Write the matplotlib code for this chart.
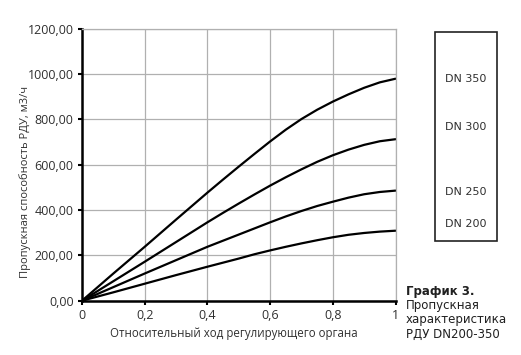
import matplotlib
matplotlib.use("Agg")
import matplotlib.pyplot as plt
from matplotlib.patches import Rectangle

# relative stroke of the control element
stroke = [0, 0.1, 0.2, 0.3, 0.4, 0.45, 0.5, 0.55, 0.6, 0.65, 0.7,
          0.75, 0.8, 0.85, 0.9, 0.95, 1.0]

# flow capacity, m3/h
dn350 = [0, 120, 238, 358, 477, 535, 592, 648, 703, 755, 802,
         843, 879, 911, 940, 964, 980]
dn300 = [0, 86, 172, 259, 346, 388, 429, 469, 508, 545, 580,
         613, 642, 667, 688, 704, 713]
dn250 = [0, 60, 120, 179, 238, 265, 292, 319, 346, 372, 396,
         418, 437, 455, 470, 480, 486]
dn200 = [0, 37, 75, 113, 150, 168, 186, 205, 222, 238, 253,
         267, 280, 291, 299, 305, 309]

series_names = ["DN 350", "DN 300", "DN 250", "DN 200"]
x_ticks = [0, 0.2, 0.4, 0.6, 0.8, 1.0]
x_tick_labels = ["0", "0,2", "0,4", "0,6", "0,8", "1"]
y_ticks = [0, 200, 400, 600, 800, 1000, 1200]
y_tick_labels = ["0,00", "200,00", "400,00", "600,00", "800,00", "1000,00", "1200,00"]

plt.rcParams["font.family"] = ["Open Sans", "DejaVu Sans"]

W, H = 521, 355
fig = plt.figure(figsize=(W / 100, H / 100), dpi=100)
ax = fig.add_axes([82 / W, 1 - 300.7 / H, 313.5 / W, 271.8 / H])

for vals in (dn350, dn300, dn250, dn200):
    ax.plot(stroke, vals, color="black", lw=1.6, solid_capstyle="round",
            solid_joinstyle="round")

ax.set_xlim(0, 1)
ax.set_ylim(0, 1200)
ax.set_xticks(x_ticks)
ax.set_xticklabels(x_tick_labels)
ax.set_yticks(y_ticks)
ax.set_yticklabels(y_tick_labels)
ax.grid(True, color="#b0b0b0", lw=0.9)
ax.set_axisbelow(True)

for side in ("top", "right"):
    ax.spines[side].set_color("#b0b0b0")
    ax.spines[side].set_linewidth(0.9)
for side in ("left", "bottom"):
    ax.spines[side].set_color("black")
    ax.spines[side].set_linewidth(1.8)

ax.tick_params(direction="out", length=3, width=1.5, labelsize=9,
               colors="black", labelcolor="#303030", pad=3)

ax.set_xlabel("Относительный ход регулирующего органа", fontsize=8.3,
              color="#303030")
ax.set_ylabel("Пропускная способность РДУ, м3/ч", fontsize=8,
              color="#303030")
ax.xaxis.set_label_coords((234 - 82) / 313.5, -(333 - 300.7) / 271.8)
ax.yaxis.set_label_coords(-(82 - 25) / 313.5, (300.7 - 182) / 271.8)
ax.xaxis.label.set_va("center")
ax.yaxis.label.set_va("center")

# legend box holding only the series names, as in the source
fig.patches.append(Rectangle((435 / W, 1 - 240.7 / H), 62.3 / W, 208.4 / H,
                             transform=fig.transFigure, fill=False,
                             edgecolor="#222222", lw=1.2))
legend_y = [79, 127, 192.3, 224.3]
for name, yp in zip(series_names, legend_y):
    fig.text(445 / W, 1 - yp / H, name, fontsize=8, va="center",
             ha="left", color="#303030", family=["DejaVu Sans"])

fig.text(406 / W, 1 - 291.7 / H, "График 3.", fontsize=8.5,
         fontweight="bold", va="center", ha="left", family=["DejaVu Sans"],
         color="#202020")
caption_y = [305.5, 320, 334]
for line, yp in zip(["Пропускная", "характеристика", "РДУ DN200-350"], caption_y):
    fig.text(406 / W, 1 - yp / H, line, fontsize=8.5,
             va="center", ha="left", family=["DejaVu Sans"], color="#202020")

fig.savefig("out.png", dpi=100)
